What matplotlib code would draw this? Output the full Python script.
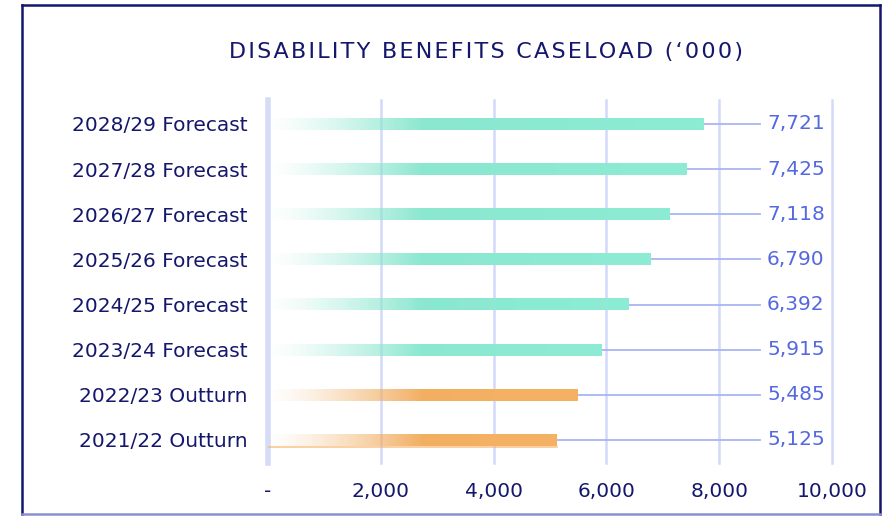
import numpy as np
import matplotlib
matplotlib.use('Agg')
import matplotlib.pyplot as plt
from matplotlib.lines import Line2D
from matplotlib.colors import to_rgb

plt.rcParams['font.family'] = ['DejaVu Sans']

# Data
categories = ['2021/22 Outturn', '2022/23 Outturn', '2023/24 Forecast', '2024/25 Forecast',
              '2025/26 Forecast', '2026/27 Forecast', '2027/28 Forecast', '2028/29 Forecast']
caseload = [5125, 5485, 5915, 6392, 6790, 7118, 7425, 7721]
is_forecast = [False, False, True, True, True, True, True, True]
xticks = [0, 2000, 4000, 6000, 8000, 10000]
xtick_labels = ['-', '2,000', '4,000', '6,000', '8,000', '10,000']
title = 'DISABILITY BENEFITS CASELOAD (\u2018000)'

navy = '#14176b'
label_blue = '#5468e0'
grid_col = '#d3d9fb'
green = '#8eecd4'
orange = '#f6b264'

fig = plt.figure(figsize=(8.89, 5.17), dpi=100)
ax = fig.add_axes([268 / 889, 1 - 463 / 517, (832 - 268) / 889, (463 - 100) / 517])

bar_h = 0.26
for i, (v, fc) in enumerate(zip(caseload, is_forecast)):
    col = np.array(to_rgb(green if fc else orange))
    xs = np.linspace(0, v, 400)
    alpha = np.clip(0.03 + xs / 2800, 0, 1) ** 1.4
    rgb = col[None, :] * (0.97 + 0.03 * xs[:, None] / v)
    rgba = np.concatenate([rgb, alpha[:, None]], axis=1)[None, :, :]
    ax.imshow(rgba, extent=[40, v, i - bar_h / 2, i + bar_h / 2], aspect='auto',
              interpolation='bilinear', zorder=3)
    # leader line and value label
    ax.plot([v, 8730], [i, i], color='#aab4f2', lw=1.3, zorder=2)
    ax.text(9360, i, f'{v:,}', color=label_blue, fontsize=14.5, ha='center', va='center')

# thin shadow line under the first bar
ax.plot([0, caseload[0]], [-bar_h / 2 - 0.02] * 2, color=orange, lw=1.2, alpha=0.7, zorder=3)

ax.set_xlim(0, 10000)
ax.set_ylim(-0.51, 7.53)
ax.set_xticks(xticks)
ax.set_xticklabels(xtick_labels, color=navy, fontsize=14.5)
ax.set_yticks(range(len(categories)))
ax.set_yticklabels(categories, color=navy, fontsize=14.5)
ax.tick_params(length=0)
ax.tick_params(axis='x', pad=14)
ax.tick_params(axis='y', pad=15)
for s in ax.spines.values():
    s.set_visible(False)
for x in xticks[1:]:
    ax.axvline(x, color=grid_col, lw=1.8, zorder=1, clip_on=False)
ax.axvline(0, color='#d6dcf8', lw=4, zorder=1, clip_on=False)

# title with letter spacing
fig.text(486 / 889, 1 - 52 / 517, '\u200a'.join(title), color=navy,
         fontsize=16, ha='center', va='center')

# outer frame
fx = [22 / 889, 880 / 889]
fy = [1 - 514 / 517, 1 - 5 / 517]
for xs_, ys_, c in [([fx[0], fx[0]], fy, navy), ([fx[1], fx[1]], fy, navy),
                    (fx, [fy[1], fy[1]], navy), (fx, [fy[0], fy[0]], '#8a8fd0')]:
    fig.lines.append(Line2D(xs_, ys_, transform=fig.transFigure, color=c, lw=1.8))

fig.savefig('out.png', dpi=100)
